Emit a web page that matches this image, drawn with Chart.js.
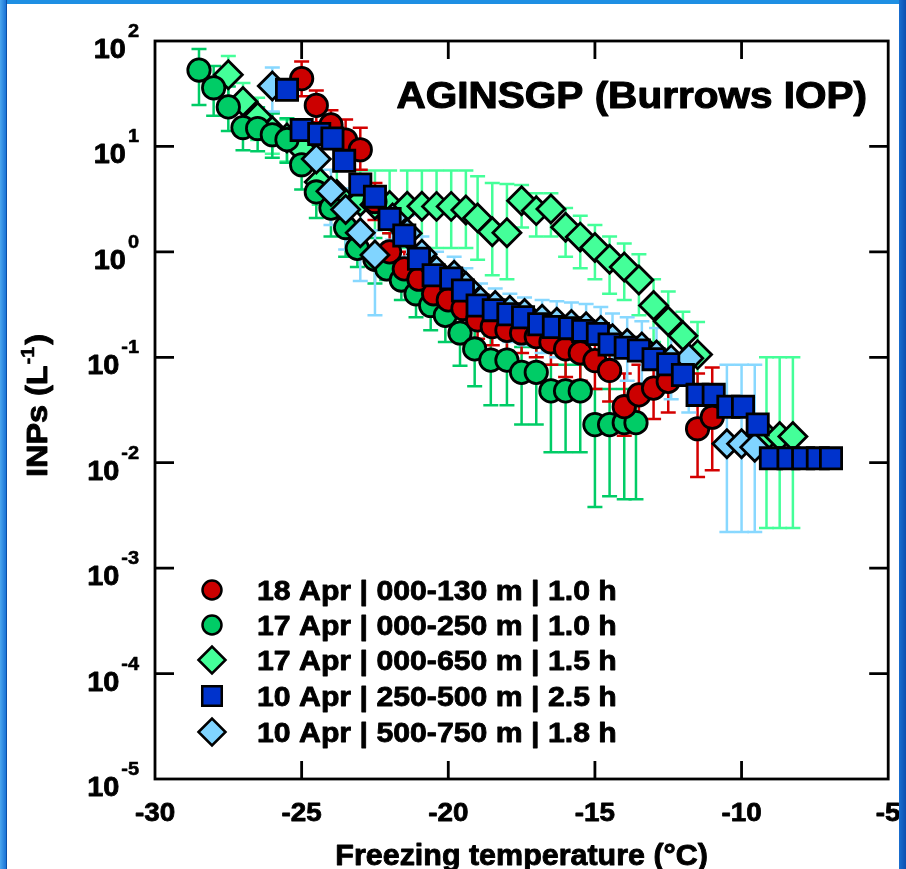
<!DOCTYPE html>
<html>
<head>
<meta charset="utf-8">
<script src="https://cdn.jsdelivr.net/npm/chart.js@4.4.1/dist/chart.umd.min.js"></script>
<style>
  html, body { margin: 0; padding: 0; background: #fff; }
  #wrap { position: relative; width: 906px; height: 869px; overflow: hidden; background: #fff; }
  #wrap canvas { position: absolute; left: 0; top: 0; }
  .edge { position: absolute; z-index: 2; }
  #edgeTop { left: 0; top: 0; width: 906px; height: 4px; background: #1e8fe3; }
  #edgeLeft { left: 0; top: 0; width: 6px; height: 869px; background: linear-gradient(to right, #4aa6ee, #1a73d6); border-right: 1px solid #0b4fa8; }
  #edgeRight { right: 0; top: 0; width: 7px; height: 869px; background: linear-gradient(to right, #1a6fd0, #0d4fb0); }
</style>
</head>
<body>
<div id="wrap">
  <canvas id="chart" width="906" height="869"></canvas>
  <div class="edge" id="edgeTop"></div>
  <div class="edge" id="edgeLeft"></div>
  <div class="edge" id="edgeRight"></div>
</div>
<script>
// axis ticks
const xTickLabels = [-30, -25, -20, -15, -10, -5];
const yTickPowers = [2, 1, 0, -1, -2, -3, -4, -5];

// 18 Apr | 000-130 m | 1.0 h
const redT  = [-25, -24.5, -24, -23.5, -23, -22.5, -22, -21.5, -21, -20.5, -20, -19.5, -19, -18.5, -18, -17.5, -17, -16.5, -16, -15.5, -15, -14.5, -14, -13.5, -13, -12.5, -11.5, -11];
const redN  = [44, 24.5, 16, 11.5, 9.3, 3.0, 1.0, 0.69, 0.55, 0.40, 0.35, 0.29, 0.226, 0.195, 0.18, 0.17, 0.157, 0.14, 0.12, 0.11, 0.093, 0.075, 0.034, 0.044, 0.051, 0.059, 0.021, 0.027];
const redHi = [64, 34, 22, 18, 15, 4.5, 1.5, 1.0, 0.8, 0.58, 0.5, 0.42, 0.33, 0.29, 0.27, 0.26, 0.25, 0.23, 0.2, 0.19, 0.17, 0.14, 0.07, 0.085, 0.095, 0.1, 0.07, 0.08];
const redLo = [30, 17, 11, 7.5, 6, 2.0, 0.65, 0.45, 0.36, 0.26, 0.23, 0.19, 0.15, 0.13, 0.115, 0.11, 0.1, 0.085, 0.065, 0.06, 0.05, 0.038, 0.018, 0.022, 0.026, 0.03, 0.0073, 0.0085];

// 17 Apr | 000-250 m | 1.0 h
const grnT  = [-28.5, -28, -27.5, -27, -26.5, -26, -25.5, -25, -24.5, -24, -23.5, -23.1, -22.5, -22.1, -21.6, -21.1, -20.6, -20.1, -19.6, -19.1, -18.55, -18, -17.5, -17, -16.5, -16, -15.5, -15, -14.5, -14, -13.6];
const grnN  = [53, 36, 23.7, 15.1, 14.8, 12.9, 11.6, 6.7, 3.7, 2.6, 1.7, 1.08, 0.85, 0.69, 0.54, 0.40, 0.31, 0.25, 0.17, 0.12, 0.094, 0.094, 0.072, 0.072, 0.048, 0.048, 0.048, 0.023, 0.023, 0.024, 0.024];
const grnHi = [84, 58, 37, 24, 23.5, 20.5, 18.5, 10.7, 5.9, 4, 2.7, 1.7, 1.35, 1.1, 0.87, 0.64, 0.5, 0.4, 0.28, 0.2, 0.16, 0.16, 0.125, 0.125, 0.085, 0.085, 0.085, 0.05, 0.05, 0.05, 0.05];
const grnLo = [24.7, 19.5, 14, 9.2, 9.0, 7.8, 7.0, 3.9, 2.1, 1.4, 0.9, 0.72, 0.5, 0.54, 0.35, 0.24, 0.18, 0.14, 0.083, 0.053, 0.035, 0.035, 0.023, 0.023, 0.0126, 0.0126, 0.0126, 0.0038, 0.0048, 0.0045, 0.0045];

// 17 Apr | 000-650 m | 1.5 h
const mntT  = [-27.5, -27, -26.5, -26, -25.5, -25, -24.4, -23.8, -23, -22.5, -22, -21.4, -20.9, -20.4, -19.9, -19.4, -19, -18.5, -18, -17.5, -17, -16.5, -16, -15.5, -15, -14.5, -14, -13.5, -13, -12.5, -12, -11.5, -9.15, -8.7, -8.25];
const mntN  = [47.8, 26.7, 19, 14, 12, 9.5, 4.6, 3.5, 3.0, 2.8, 2.75, 2.71, 2.71, 2.7, 2.7, 2.5, 2.1, 1.55, 1.52, 3.06, 2.46, 2.55, 1.71, 1.38, 1.1, 0.85, 0.72, 0.54, 0.31, 0.22, 0.16, 0.106, 0.0177, 0.0177, 0.0177];
const mntHi = [72, 40, 29, 21, 18, 14, 7, 5.9, 5.9, 5.9, 5.9, 5.9, 5.9, 5.9, 5.9, 5.9, 5.2, 4.5, 4.4, 4.3, 3.6, 3.6, 2.6, 2.2, 1.8, 1.4, 1.2, 0.95, 0.55, 0.42, 0.27, 0.216, 0.1, 0.1, 0.1];
const mntLo = [30, 17, 11.5, 8.5, 7.2, 5.7, 2.8, 2.1, 1.8, 1.6, 1.5, 1.09, 1.09, 1.09, 1.09, 1.09, 0.84, 0.6, 0.55, 1.7, 1.4, 1.4, 0.9, 0.7, 0.55, 0.4, 0.35, 0.25, 0.14, 0.09, 0.06, 0.035, 0.0024, 0.0024, 0.0024];

// 10 Apr | 250-500 m | 2.5 h
const bluT = [-25.5, -25, -24.4, -23.95, -23.55, -23, -22.5, -22, -21.5, -21, -20.5, -19.9, -19.5, -19, -18.45, -17.95, -17.45, -16.9, -16.4, -15.85, -15.4, -14.9, -14.5, -13.95, -13.5, -13, -12.5, -12, -11.5, -10.95, -10.45, -9.95, -9.45, -9.0, -8.4, -7.9, -7.4, -6.95];
const bluN = [34.4, 14.3, 13.1, 11.9, 7.3, 4.35, 3.34, 2.05, 1.43, 0.86, 0.60, 0.56, 0.43, 0.31, 0.28, 0.256, 0.24, 0.206, 0.194, 0.189, 0.178, 0.166, 0.132, 0.123, 0.116, 0.096, 0.086, 0.068, 0.044, 0.044, 0.034, 0.034, 0.023, 0.011, 0.011, 0.011, 0.011, 0.011];

// 10 Apr | 500-750 m | 1.8 h
const lbT  = [-26, -24.5, -24, -23.5, -23, -22.5, -21.9, -21.4, -20.9, -20.4, -19.8, -19.4, -18.9, -18.4, -17.9, -17.4, -16.8, -16.3, -15.8, -15.3, -14.8, -14.4, -13.9, -13.4, -12.9, -12.4, -11.8, -10.5, -10.0, -9.55];
const lbN  = [37.5, 7.6, 3.76, 2.52, 1.52, 0.935, 2.1, 1.5, 0.95, 0.66, 0.6, 0.47, 0.34, 0.31, 0.28, 0.26, 0.23, 0.215, 0.205, 0.195, 0.18, 0.15, 0.135, 0.125, 0.105, 0.095, 0.098, 0.0151, 0.0151, 0.014];
const lbHi = [56, 12, 6, 4, 2.5, 1.6, 3, 2.2, 1.4, 1.0, 0.9, 0.7, 0.5, 0.45, 0.4, 0.37, 0.35, 0.34, 0.33, 0.32, 0.3, 0.26, 0.24, 0.22, 0.19, 0.18, 0.17, 0.085, 0.085, 0.085];
const lbLo = [21.4, 4.1, 1.8, 1.05, 0.53, 0.25, 1.3, 0.9, 0.55, 0.38, 0.34, 0.26, 0.18, 0.16, 0.14, 0.13, 0.11, 0.1, 0.1, 0.09, 0.085, 0.07, 0.06, 0.055, 0.045, 0.04, 0.03, 0.0022, 0.0022, 0.0022];

const seriesLabels = [
  '18 Apr | 000-130 m | 1.0 h',
  '17 Apr | 000-250 m | 1.0 h',
  '17 Apr | 000-650 m | 1.5 h',
  '10 Apr | 250-500 m | 2.5 h',
  '10 Apr | 500-750 m | 1.8 h'
];

const FONT = '"Liberation Sans", Arial, Helvetica, sans-serif';
const SX = 1.12; // horizontal stretch of the original lettering

function pts(t, n) { return t.map((v, i) => ({ x: v, y: n[i] })); }

function series(label, t, n, lo, hi, style, radius, fill, errColor, order) {
  return {
    label: label,
    data: pts(t, n),
    errLo: lo, errHi: hi, errColor: errColor,
    pointStyle: style,
    pointRadius: radius,
    pointHoverRadius: radius,
    pointBackgroundColor: fill,
    pointBorderColor: '#000',
    pointBorderWidth: 2.8,
    showLine: false,
    order: order
  };
}

function stretchText(ctx, str, x, y, size, align, sx) {
  ctx.save();
  ctx.font = 'bold ' + size + 'px ' + FONT;
  const w = ctx.measureText(str).width * sx;
  const left = align === 'center' ? x - w / 2 : (align === 'right' ? x - w : x);
  ctx.translate(left, y);
  ctx.scale(sx, 1);
  ctx.textAlign = 'left';
  ctx.textBaseline = 'alphabetic';
  ctx.fillStyle = '#000';
  ctx.strokeStyle = '#000';
  ctx.lineWidth = size * 0.03;
  ctx.lineJoin = 'round';
  ctx.fillText(str, 0, 0);
  ctx.strokeText(str, 0, 0);
  ctx.restore();
  return w;
}

function marker(ctx, style, x, y, r, fill) {
  ctx.save();
  ctx.fillStyle = fill;
  ctx.strokeStyle = '#000';
  ctx.lineWidth = 2.5;
  ctx.beginPath();
  if (style === 'circle') {
    ctx.arc(x, y, r, 0, Math.PI * 2);
  } else if (style === 'rect') {
    const h = r * Math.SQRT1_2;
    ctx.rect(x - h, y - h, 2 * h, 2 * h);
  } else {
    ctx.moveTo(x - r, y); ctx.lineTo(x, y - r); ctx.lineTo(x + r, y); ctx.lineTo(x, y + r); ctx.closePath();
  }
  ctx.fill();
  ctx.stroke();
  ctx.restore();
}

// vertical error bars with caps, drawn under all markers
const errorBars = {
  id: 'errorBars',
  beforeDatasetsDraw(chart) {
    const { ctx, scales: { x, y } } = chart;
    ctx.save();
    ctx.lineWidth = 2.5;
    const order = [2, 1, 0, 4];
    order.forEach(i => {
      const ds = chart.data.datasets[i];
      if (!ds.errLo) return;
      ctx.strokeStyle = ds.errColor;
      ds.data.forEach((p, j) => {
        const px = x.getPixelForValue(p.x);
        const yLo = y.getPixelForValue(ds.errLo[j]);
        const yHi = y.getPixelForValue(ds.errHi[j]);
        ctx.beginPath();
        ctx.moveTo(px, yLo); ctx.lineTo(px, yHi);
        ctx.moveTo(px - 7.5, yLo); ctx.lineTo(px + 7.5, yLo);
        ctx.moveTo(px - 7.5, yHi); ctx.lineTo(px + 7.5, yHi);
        ctx.stroke();
      });
    });
    ctx.restore();
  }
};

// frame, inward ticks, tick labels, titles and legend
const decorations = {
  id: 'decorations',
  afterDraw(chart) {
    const { ctx, chartArea: a, scales: { x, y } } = chart;
    ctx.save();
    ctx.strokeStyle = '#000';
    ctx.lineWidth = 2.8;
    ctx.strokeRect(a.left, a.top, a.right - a.left, a.bottom - a.top);
    ctx.beginPath();
    xTickLabels.forEach(v => {
      const px = x.getPixelForValue(v);
      if (px <= a.left + 1 || px >= a.right - 1) return;
      ctx.moveTo(px, a.bottom); ctx.lineTo(px, a.bottom - 18);
      ctx.moveTo(px, a.top); ctx.lineTo(px, a.top + 18);
    });
    yTickPowers.forEach(p => {
      const py = y.getPixelForValue(Math.pow(10, p));
      if (py <= a.top + 1 || py >= a.bottom - 1) return;
      ctx.moveTo(a.left, py); ctx.lineTo(a.left + 19, py);
      ctx.moveTo(a.right, py); ctx.lineTo(a.right - 19, py);
    });
    ctx.stroke();
    ctx.restore();

    // x tick labels
    xTickLabels.forEach(v => {
      stretchText(ctx, String(v), x.getPixelForValue(v), a.bottom + 42, 26, 'center', 1.07);
    });
    // y tick labels 10^p
    yTickPowers.forEach(p => {
      const py = y.getPixelForValue(Math.pow(10, p));
      const ew = stretchText(ctx, String(p), 139, py - 4, 19, 'right', 1.05);
      stretchText(ctx, '10', 139 - ew - 2, py + 17, 27, 'right', 1.07);
    });

    // x axis title
    stretchText(ctx, 'Freezing temperature (\u00B0C)', (a.left + a.right) / 2, a.bottom + 86, 29, 'center', 1.05);

    // y axis title, rotated
    ctx.save();
    ctx.translate(47, 477);
    ctx.rotate(-Math.PI / 2);
    let w = stretchText(ctx, 'INPs (L', 0, 0, 30, 'left', 1.08);
    const w2 = stretchText(ctx, '-1', w + 1, -13, 19, 'left', 1.05);
    stretchText(ctx, ')', w + w2 + 3, 0, 30, 'left', 1.08);
    ctx.restore();

    // campaign title
    stretchText(ctx, 'AGINSGP (Burrows IOP)', 867, 108, 37, 'right', 1.095);

    // legend
    const legendY = [590, 625, 660, 696, 732];
    chart.data.datasets.forEach((ds, i) => {
      const yy = legendY[i];
      const r = ds.pointStyle === 'circle' ? 9.5 : (ds.pointStyle === 'rect' ? 13.8 : 13.5);
      marker(ctx, ds.pointStyle, 212, yy, r, ds.pointBackgroundColor);
      stretchText(ctx, ds.label, 257, yy + 9.5, 27, 'left', SX);
    });
  }
};

const ctx = document.getElementById('chart').getContext('2d');
const chart = new Chart(ctx, {
  type: 'scatter',
  data: {
    datasets: [
      series(seriesLabels[0], redT, redN, redLo, redHi, 'circle', 11.2, '#CC0000', '#D40000', 2),
      series(seriesLabels[1], grnT, grnN, grnLo, grnHi, 'circle', 11.2, '#00CC66', '#00CC66', 3),
      series(seriesLabels[2], mntT, mntN, mntLo, mntHi, 'rectRot', 14, '#44FF99', '#44FF99', 4),
      series(seriesLabels[3], bluT, bluN, null, null, 'rect', 15, '#0033CC', '#0033CC', 0),
      series(seriesLabels[4], lbT, lbN, lbLo, lbHi, 'rectRot', 14, '#80D4FF', '#88D8FF', 1)
    ]
  },
  options: {
    responsive: false,
    animation: false,
    layout: { padding: { top: 41, right: 13, left: 0, bottom: 0 } },
    scales: {
      x: {
        type: 'linear', min: -30, max: -5,
        ticks: { display: false },
        grid: { display: false },
        border: { display: false },
        afterFit(s) { s.height = 90; }
      },
      y: {
        type: 'logarithmic', min: 1e-5, max: 100,
        ticks: { display: false },
        grid: { display: false },
        border: { display: false },
        afterFit(s) { s.width = 155; }
      }
    },
    plugins: {
      legend: { display: false },
      tooltip: { enabled: false }
    }
  },
  plugins: [errorBars, decorations]
});
</script>
</body>
</html>
